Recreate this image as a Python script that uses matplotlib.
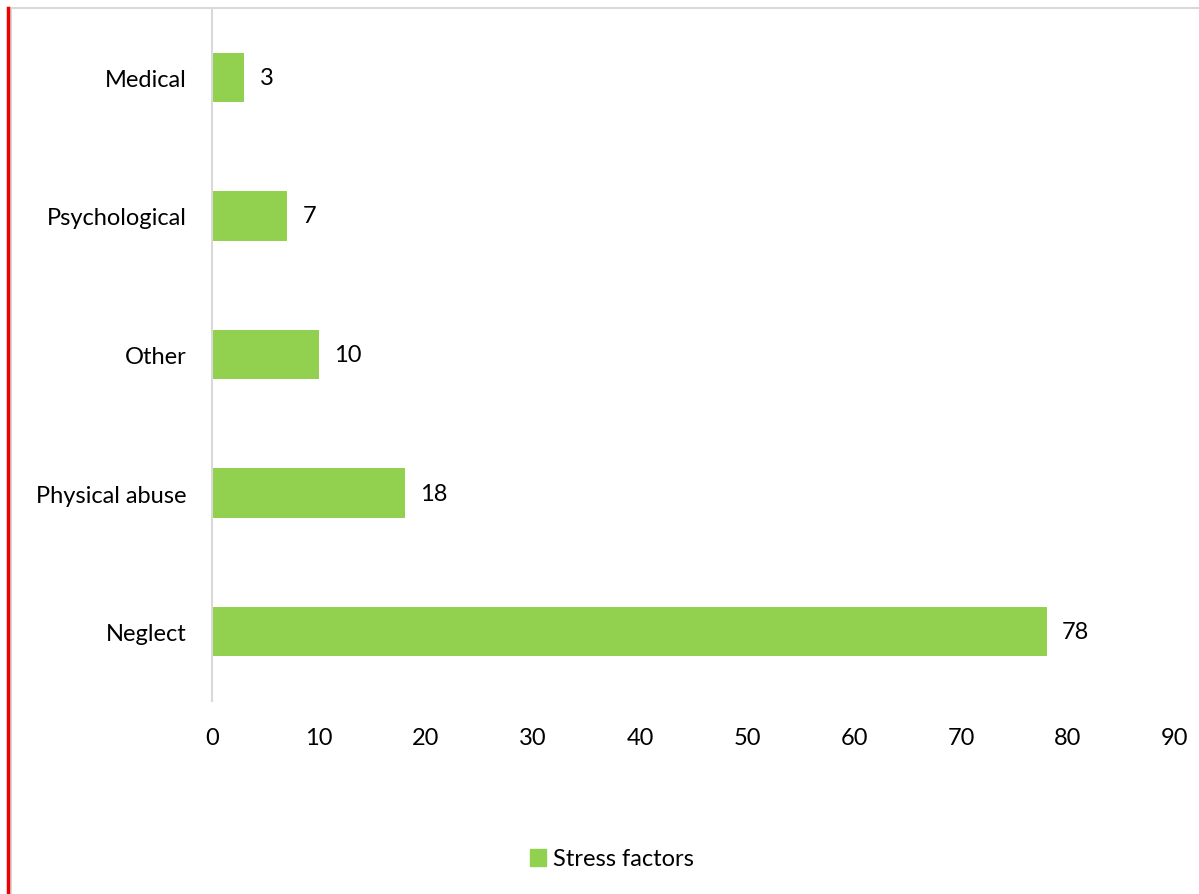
import matplotlib.pyplot as plt
from matplotlib.lines import Line2D
from matplotlib.patches import Patch

categories = ["Neglect", "Physical abuse", "Other", "Psychological", "Medical"]
values = [78, 18, 10, 7, 3]
xticks = [0, 10, 20, 30, 40, 50, 60, 70, 80, 90]

green = "#92D050"
plt.rcParams["font.family"] = ["Lato", "DejaVu Sans"]

fig = plt.figure(figsize=(11.99, 8.95), dpi=100)
W, H = 1199, 895
ax = fig.add_axes([212 / W, 1 - 702 / H, (1175 - 212) / W, (702 - 9) / H])

bars = ax.barh(categories, values, height=0.355, color=green)
for b, v in zip(bars, values):
    ax.text(b.get_width() + 1.45, b.get_y() + b.get_height() / 2, str(v),
            va="center", ha="left", fontsize=17)

ax.set_xlim(0, 90)
ax.set_ylim(-0.5, 4.5)
ax.set_xticks(xticks)
ax.tick_params(axis="both", length=0, labelsize=17)
ax.tick_params(axis="x", pad=18.5)
ax.tick_params(axis="y", pad=18.5)
for s in ["top", "right", "bottom"]:
    ax.spines[s].set_visible(False)
ax.spines["left"].set_color("#D9D9D9")
ax.spines["left"].set_linewidth(1.5)

# chart border pieces
fig.add_artist(Line2D([10 / W, 1], [1 - 9 / H, 1 - 9 / H], color="#D9D9D9", lw=1.5))
fig.add_artist(Line2D([11 / W, 11 / W], [0, 1 - 9 / H], color="#D9D9D9", lw=1.5))
fig.add_artist(Line2D([8 / W, 8 / W], [0, 1 - 9 / H], color="#EE0000", lw=2.5))

fig.legend(handles=[Patch(color=green, label="Stress factors")],
           loc="center", bbox_to_anchor=(612 / W, 1 - 860 / H), frameon=False,
           fontsize=17, handlelength=0.7, handleheight=0.7, handletextpad=0.3)

fig.savefig("out.png", dpi=100)
